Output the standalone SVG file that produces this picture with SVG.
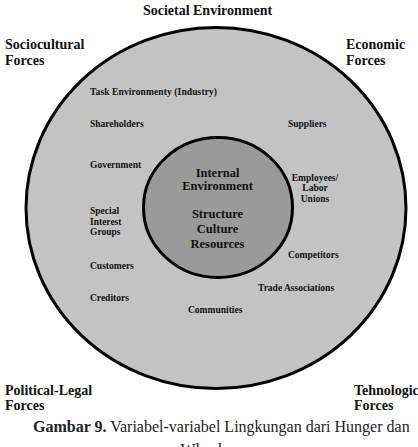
<svg xmlns="http://www.w3.org/2000/svg" width="418" height="447" viewBox="0 0 418 447">
<style>
.h{font-family:"Liberation Serif","Times New Roman",serif;font-weight:bold;font-size:14px;fill:#111}
.s{font-family:"Liberation Serif","Times New Roman",serif;font-weight:bold;font-size:9.5px;fill:#111}
.c{font-family:"Liberation Serif","Times New Roman",serif;font-weight:bold;font-size:12.5px;fill:#111;text-anchor:middle}
.cap{font-family:"Liberation Serif","Times New Roman",serif;font-size:16px;fill:#222}
</style>
<rect width="418" height="447" fill="#fff"/>
<g id="societal-environment">
<ellipse cx="216" cy="208" rx="190" ry="180.5" fill="#c3c3c3" stroke="#000" stroke-width="3"/>
<text class="h" x="207.5" y="15" font-size="15" text-anchor="middle">Societal Environment</text>
</g>
<g id="sociocultural">
<text class="h" x="5" y="49">Sociocultural</text>
<text class="h" x="5" y="65">Forces</text>
</g>
<g id="economic">
<text class="h" x="346" y="49">Economic</text>
<text class="h" x="346" y="65">Forces</text>
</g>
<g id="political-legal">
<text class="h" x="5" y="395">Political-Legal</text>
<text class="h" x="5" y="410">Forces</text>
</g>
<g id="tehnologic">
<text class="h" x="354" y="395">Tehnologic</text>
<text class="h" x="354" y="410">Forces</text>
</g>
<g id="task-environment">
<text class="s" x="90" y="95" textLength="127">Task Environmenty (Industry)</text>
<text class="s" x="90" y="127">Shareholders</text>
<text class="s" x="288" y="127">Suppliers</text>
<text class="s" x="90" y="168">Government</text>
<text class="s" x="90" y="214">Special</text>
<text class="s" x="90" y="225">Interest</text>
<text class="s" x="90" y="235">Groups</text>
<text class="s" x="315" y="181" text-anchor="middle">Employees/</text>
<text class="s" x="315" y="191" text-anchor="middle">Labor</text>
<text class="s" x="315" y="202" text-anchor="middle">Unions</text>
<text class="s" x="288" y="258">Competitors</text>
<text class="s" x="90" y="269">Customers</text>
<text class="s" x="258" y="291">Trade Associations</text>
<text class="s" x="90" y="301">Creditors</text>
<text class="s" x="188" y="313">Communities</text>
</g>
<g id="internal-environment">
<ellipse cx="218" cy="207.5" rx="74.5" ry="70" fill="#9a9a9a" stroke="#000" stroke-width="3"/>
<text class="c" x="217.5" y="177">Internal</text>
<text class="c" x="217.5" y="190">Environment</text>
<text class="c" x="217.5" y="218">Structure</text>
<text class="c" x="217.5" y="233">Culture</text>
<text class="c" x="217.5" y="248">Resources</text>
</g>
<g id="connectors"/>
<g id="caption">
<text class="cap" x="33" y="432"><tspan font-weight="bold">Gambar 9.</tspan> Variabel-variabel Lingkungan dari Hunger dan</text>
<text class="cap" x="209" y="455" text-anchor="middle">Wheelen</text>
</g>
</svg>
